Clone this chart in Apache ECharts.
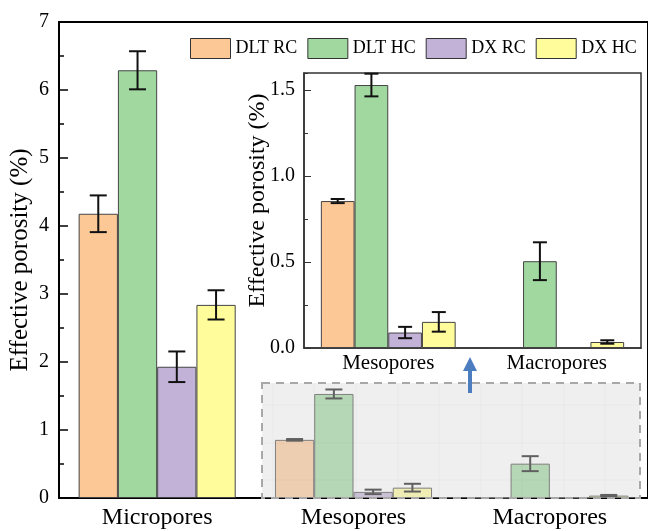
<!DOCTYPE html>
<html><head><meta charset="utf-8">
<script src="https://cdn.jsdelivr.net/npm/echarts@6/dist/echarts.min.js"></script>
<style>html,body{margin:0;padding:0;background:#fff}#c{width:648px;height:531px}</style>
</head><body><div id="c"></div>
<script>
// ---- data ----
const categories = ['Micropores', 'Mesopores', 'Macropores'];
const insetCategories = ['Mesopores', 'Macropores'];
const seriesNames = ['DLT RC', 'DLT HC', 'DX RC', 'DX HC'];
const dltRC = [4.18, 0.855, 0];
const dltHC = [6.29, 1.53, 0.505];
const dxRC = [1.93, 0.09, 0];
const dxHC = [2.84, 0.152, 0.035];
const dltRCErr = [0.27, 0.012, 0];
const dltHCErr = [0.28, 0.066, 0.11];
const dxRCErr = [0.225, 0.033, 0];
const dxHCErr = [0.215, 0.057, 0.01];
const mainYMax = 7, mainYInterval = 1;
const insetYMax = 1.6, insetYInterval = 0.5;

const values = [dltRC, dltHC, dxRC, dxHC];
const errs = [dltRCErr, dltHCErr, dxRCErr, dxHCErr];
const colors = ['#FCC896', '#A0D8A0', '#C3B2D7', '#FFFC9C'];
const FONT = "'Liberation Serif', 'Times New Roman', 'DejaVu Serif', serif";

function bars(xIdx, yIdx, start) {
  return values.map((arr, s) => ({
    name: seriesNames[s], type: 'bar', xAxisIndex: xIdx, yAxisIndex: yIdx,
    data: arr.slice(start), barGap: '0%', barCategoryGap: '20%',
    itemStyle: { color: colors[s], borderColor: '#444', borderWidth: 1 },
    emphasis: { disabled: true }, z: 2
  }));
}
function errSeries(xIdx, yIdx, start, capW) {
  const data = [];
  values.forEach((arr, s) => {
    for (let i = start; i < arr.length; i++) {
      if (errs[s][i] > 0) data.push([i - start, s, arr[i], errs[s][i]]);
    }
  });
  return {
    type: 'custom', xAxisIndex: xIdx, yAxisIndex: yIdx, data, z: 5,
    encode: { x: 0, y: 2 }, silent: true,
    renderItem(params, api) {
      const ci = api.value(0), s = api.value(1), v = api.value(2), e = api.value(3);
      const band = api.size([1, 0])[0];
      const bw = band * 0.8 / 4;
      const c = api.coord([ci, v]);
      const x = c[0] + (s - 1.5) * bw;
      const yt = api.coord([ci, v + e])[1];
      const yb = api.coord([ci, v - e])[1];
      const st = { stroke: '#111', lineWidth: 2 };
      return { type: 'group', children: [
        { type: 'line', shape: { x1: x, y1: yt, x2: x, y2: yb }, style: st },
        { type: 'line', shape: { x1: x - capW / 2, y1: yt, x2: x + capW / 2, y2: yt }, style: st },
        { type: 'line', shape: { x1: x - capW / 2, y1: yb, x2: x + capW / 2, y2: yb }, style: st }
      ] };
    }
  };
}

// decoration: zoom box grid lines
const boxLines = [];
[273, 314, 356, 398, 439, 481, 522, 564, 605].forEach(x => boxLines.push({
  type: 'line', z: 99, shape: { x1: x, y1: 384, x2: x, y2: 497 },
  style: { stroke: 'rgba(0,0,0,0.045)', lineWidth: 1 } }));
[405, 443, 480].forEach(y => boxLines.push({
  type: 'line', z: 99, shape: { x1: 263, y1: y, x2: 639, y2: y },
  style: { stroke: 'rgba(0,0,0,0.045)', lineWidth: 1 } }));

const chart = echarts.init(document.getElementById('c'), null, { renderer: 'canvas' });
chart.setOption({
  animation: false,
  backgroundColor: '#fff',
  textStyle: { fontFamily: FONT, color: '#000' },
  legend: {
    data: seriesNames, left: 190, top: 38, padding: 0,
    itemWidth: 40, itemHeight: 20, itemGap: 10, icon: 'rect',
    itemStyle: { borderColor: '#333', borderWidth: 1 },
    textStyle: { fontFamily: FONT, fontSize: 18, color: '#000' },
    selectedMode: false
  },
  grid: [
    { left: 57, right: -2, top: 22, bottom: 33, show: true, borderColor: '#000', borderWidth: 2, containLabel: false },
    { left: 304, top: 73, width: 337, height: 275, show: true, borderColor: '#333', borderWidth: 1.5, containLabel: false }
  ],
  xAxis: [
    { gridIndex: 0, type: 'category', data: categories,
      axisLine: { lineStyle: { color: '#000', width: 2 } }, axisTick: { show: false },
      axisLabel: { fontFamily: FONT, fontSize: 24, color: '#000', margin: 8 } },
    { gridIndex: 1, type: 'category', data: insetCategories,
      axisLine: { lineStyle: { color: '#333', width: 1.5 } }, axisTick: { show: false },
      axisLabel: { fontFamily: FONT, fontSize: 21, color: '#000', margin: 5 } }
  ],
  yAxis: [
    { gridIndex: 0, type: 'value', min: 0, max: mainYMax, interval: mainYInterval, position: 'left',
      axisLine: { show: true, lineStyle: { color: '#000', width: 2 } },
      axisTick: { show: true, inside: true, length: 9, lineStyle: { color: '#000', width: 1.5 } },
      minorTick: { show: true, splitNumber: 2, length: 5, lineStyle: { color: '#000', width: 1.5 } },
      splitLine: { show: false },
      axisLabel: { fontFamily: FONT, fontSize: 20, color: '#000', margin: 10 },
      name: 'Effective porosity (%)', nameLocation: 'middle', nameGap: 26, nameMoveOverlap: false,
      nameTextStyle: { fontFamily: FONT, fontSize: 25, color: '#000' } },
    { gridIndex: 1, type: 'value', min: 0, max: insetYMax, interval: insetYInterval, position: 'left',
      axisLine: { show: true, lineStyle: { color: '#333', width: 1.5 } },
      axisTick: { show: true, inside: true, length: 7, lineStyle: { color: '#333', width: 1 } },
      splitLine: { show: false },
      axisLabel: { fontFamily: FONT, fontSize: 20, color: '#000', margin: 9, showMaxLabel: false,
        formatter: v => v.toFixed(1) },
      name: 'Effective porosity (%)', nameLocation: 'middle', nameGap: 34, nameMoveOverlap: false,
      nameTextStyle: { fontFamily: FONT, fontSize: 24, color: '#000', padding: [0, 0, 0, 20] } },
    { gridIndex: 1, type: 'value', min: 0, max: insetYMax, interval: insetYInterval / 2, position: 'left',
      axisLine: { show: false }, axisLabel: { show: false }, splitLine: { show: false },
      axisTick: { show: true, inside: true, length: 4, lineStyle: { color: '#333', width: 1 } } }
  ],
  series: [
    ...bars(0, 0, 0),
    errSeries(0, 0, 0, 17),
    ...bars(1, 1, 1),
    errSeries(1, 1, 1, 14)
  ],
  graphic: [
    ...boxLines,
    { type: 'rect', z: 100, shape: { x: 262, y: 383, width: 378, height: 115 },
      style: { fill: 'rgba(215,215,215,0.4)', stroke: '#a8a8a8', lineWidth: 2, lineDash: [8, 6] } },
    { type: 'line', z: 101, shape: { x1: 470, y1: 368, x2: 470, y2: 393 },
      style: { stroke: '#4C7EBF', lineWidth: 4 } },
    { type: 'polygon', z: 101, shape: { points: [[470, 357], [463, 371], [477, 371]] },
      style: { fill: '#4C7EBF' } }
  ]
});
</script>
</body></html>
